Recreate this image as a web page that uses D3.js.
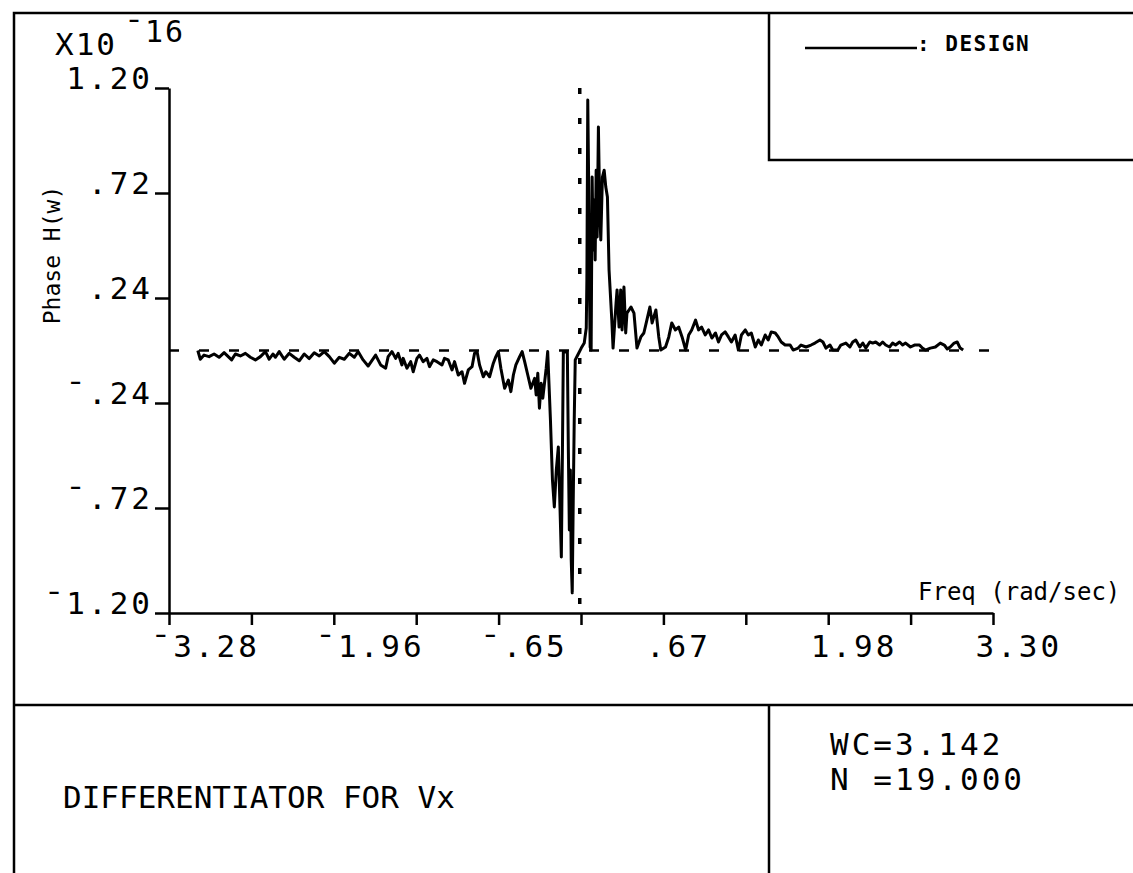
<!DOCTYPE html>
<html>
<head>
<meta charset="utf-8">
<script src="https://cdn.jsdelivr.net/npm/d3@7"></script>
<style>
  html, body { margin: 0; padding: 0; background: #fff; }
  svg { display: block; }
  text { font-family: "DejaVu Sans Mono", monospace; fill: #000; }
</style>
</head>
<body>
<div id="chart"></div>
<script>
// frequency (rad/sec), phase (x 1e-16)
const leftTail = [
  [-3.05, 0.000], [-3.03, -0.040], [-3.00, -0.021], [-2.96, -0.028], [-2.92, -0.016],
  [-2.88, -0.031], [-2.84, -0.010], [-2.78, -0.043], [-2.75, -0.016], [-2.71, -0.025],
  [-2.67, -0.013], [-2.63, -0.031], [-2.59, -0.043], [-2.55, -0.028], [-2.51, -0.005],
  [-2.48, -0.040], [-2.45, -0.016], [-2.43, -0.031], [-2.40, -0.005], [-2.36, -0.040],
  [-2.32, -0.013], [-2.28, -0.031], [-2.24, -0.047], [-2.20, -0.016], [-2.16, -0.037],
  [-2.12, -0.010], [-2.08, -0.025], [-2.04, -0.005], [-2.00, -0.028], [-1.96, -0.058],
  [-1.92, -0.031], [-1.88, -0.040], [-1.84, -0.013], [-1.80, -0.031], [-1.77, -0.005],
  [-1.73, -0.043], [-1.69, -0.071], [-1.63, -0.021], [-1.59, -0.066], [-1.55, -0.081],
  [-1.53, -0.028], [-1.50, -0.005], [-1.47, -0.036], [-1.45, -0.013], [-1.42, -0.066],
  [-1.41, -0.036], [-1.38, -0.081], [-1.35, -0.051], [-1.33, -0.097], [-1.30, -0.036],
  [-1.28, -0.021], [-1.25, -0.051], [-1.22, -0.036], [-1.20, -0.074], [-1.17, -0.043],
  [-1.14, -0.051], [-1.10, -0.066], [-1.08, -0.036], [-1.05, -0.043], [-1.02, -0.089],
  [-1.00, -0.051], [-0.97, -0.112], [-0.94, -0.097], [-0.92, -0.150], [-0.89, -0.089],
  [-0.86, -0.074], [-0.84, -0.013], [-0.82, -0.005], [-0.80, -0.066], [-0.77, -0.120],
  [-0.75, -0.097], [-0.72, -0.120], [-0.69, -0.058], [-0.67, -0.028], [-0.65, -0.005],
  [-0.63, -0.081], [-0.60, -0.173], [-0.57, -0.135], [-0.55, -0.188], [-0.53, -0.112],
  [-0.51, -0.066], [-0.48, -0.028], [-0.46, -0.005], [-0.44, -0.051], [-0.415, -0.112],
  [-0.39, -0.173], [-0.36, -0.127], [-0.348, -0.203], [-0.335, -0.104], [-0.322, -0.264],
  [-0.308, -0.150], [-0.295, -0.218], [-0.268, -0.081], [-0.256, -0.005]
];

const centerSpike = [
  [-0.234, -0.318], [-0.218, -0.592], [-0.203, -0.715], [-0.187, -0.546], [-0.171, -0.441],
  [-0.155, -0.775], [-0.147, -0.944], [-0.139, -0.500], [-0.131, -0.007], [-0.099, -0.007],
  [-0.091, -0.455], [-0.083, -0.821], [-0.075, -0.546], [-0.068, -0.958], [-0.060, -1.108],
  [-0.052, -0.683], [-0.044, -0.318], [-0.036, -0.043], [-0.020, -0.025], [0.012, 0.011],
  [0.036, 0.034], [0.052, 0.103], [0.057, 0.322], [0.064, 1.145], [0.071, 0.779],
  [0.079, 0.231], [0.083, 0.016], [0.091, 0.002], [0.099, 0.793], [0.107, 0.459],
  [0.115, 0.688], [0.123, 0.414], [0.131, 0.824], [0.139, 0.519], [0.149, 1.022],
  [0.160, 0.629], [0.168, 0.505], [0.181, 0.793], [0.195, 0.824], [0.208, 0.747],
  [0.221, 0.702], [0.234, 0.368], [0.256, 0.139], [0.266, 0.011]
];

const rightTail = [
  [0.290, 0.217], [0.298, 0.277], [0.314, 0.107], [0.327, 0.277], [0.338, 0.094],
  [0.353, 0.290], [0.367, 0.080], [0.377, 0.171], [0.409, 0.199], [0.433, 0.171],
  [0.457, 0.011], [0.488, 0.062], [0.512, 0.080], [0.536, 0.139], [0.560, 0.199],
  [0.578, 0.126], [0.608, 0.185], [0.631, 0.062], [0.647, 0.002], [0.685, 0.016],
  [0.711, 0.062], [0.735, 0.126], [0.764, 0.094], [0.790, 0.107], [0.817, 0.062],
  [0.846, 0.002], [0.870, 0.071], [0.894, 0.094], [0.925, 0.139], [0.949, 0.094],
  [0.973, 0.107], [1.002, 0.071], [1.029, 0.094], [1.055, 0.057], [1.084, 0.080],
  [1.108, 0.039], [1.132, 0.071], [1.161, 0.085], [1.187, 0.062], [1.211, 0.039],
  [1.241, 0.071], [1.267, 0.002], [1.291, 0.071], [1.322, 0.094], [1.346, 0.071],
  [1.370, 0.080], [1.402, 0.016], [1.426, 0.048], [1.450, 0.025], [1.481, 0.071],
  [1.505, 0.048], [1.529, 0.085], [1.561, 0.080], [1.585, 0.062], [1.609, 0.039],
  [1.640, 0.025], [1.680, 0.025], [1.704, 0.002], [1.744, 0.011], [1.767, 0.025],
  [1.807, 0.016], [1.847, 0.025], [1.878, 0.034], [1.918, 0.048], [1.942, 0.039],
  [1.966, 0.011], [1.998, 0.025], [2.021, 0.002], [2.061, 0.002], [2.085, 0.025],
  [2.125, 0.034], [2.157, 0.016], [2.180, 0.039], [2.204, 0.048], [2.236, 0.016],
  [2.260, 0.034], [2.284, 0.011], [2.316, 0.039], [2.339, 0.034], [2.363, 0.039],
  [2.395, 0.025], [2.419, 0.039], [2.443, 0.025], [2.474, 0.016], [2.498, 0.034],
  [2.522, 0.025], [2.554, 0.039], [2.578, 0.025], [2.602, 0.034], [2.641, 0.016],
  [2.673, 0.025], [2.713, 0.025], [2.736, 0.011], [2.760, 0.002], [2.800, 0.011],
  [2.840, 0.016], [2.879, 0.034], [2.911, 0.025], [2.935, 0.007], [2.959, 0.016],
  [2.990, 0.034], [3.014, 0.039], [3.038, 0.011], [3.062, 0.002]
];

// design: zero phase with the jump at w = 0
const designLine = [[-3.28, 0], [3.30, 0]];
const designJump = [[0, 1.20], [0, -1.20]];

const xTicks = [-3.28, -2.622, -1.964, -1.306, -0.648, 0.01, 0.668, 1.326, 1.984, 2.642, 3.30];
const xTickLabels = ['¯3.28', '', '¯1.96', '', '¯.65', '', '.67', '', '1.98', '', '3.30'];
const yTicks = [1.20, 0.72, 0.24, -0.24, -0.72, -1.20];
const yTickLabels = ['1.20', '.72', '.24', '¯.24', '¯.72', '¯1.20'];

const W = 1133, H = 873;
const plot = { left: 169, right: 993, top: 88, bottom: 613 };

const svg = d3.select('#chart').append('svg')
  .attr('width', W)
  .attr('height', H)
  .attr('viewBox', [0, 0, W, H].join(' '));

svg.append('rect').attr('width', W).attr('height', H).attr('fill', '#fff');

// page frame
const frame = svg.append('g')
  .attr('stroke', '#000')
  .attr('stroke-width', 2.5)
  .attr('fill', 'none');
frame.append('path').attr('d', `M14,${H} V13 H${W}`);
frame.append('path').attr('d', `M14,705 H${W}`);
frame.append('path').attr('d', `M769,705 V${H}`);
frame.append('path').attr('d', `M769,13 V160 H${W}`);

let x = d3.scaleLinear()
  .domain([-3.28, 3.30])
  .range([plot.left, plot.right]);

let y = d3.scaleLinear()
  .domain([-1.20, 1.20])
  .range([plot.bottom, plot.top]);

let xAxis = g => g
  .attr('transform', `translate(0,${plot.bottom})`)
  .call(d3.axisBottom(x).tickValues(xTicks).tickSize(12).tickSizeOuter(0)
    .tickFormat((d, i) => xTickLabels[i]))
  .call(g => g.selectAll('text')
    .attr('text-anchor', 'start')
    .attr('x', -18)
    .attr('y', 44)
    .attr('dy', 0));

let yAxis = g => g
  .attr('transform', `translate(${plot.left},0)`)
  .call(d3.axisLeft(y).tickValues(yTicks).tickSize(14).tickSizeOuter(0)
    .tickFormat((d, i) => yTickLabels[i]))
  .call(g => g.selectAll('text')
    .attr('x', -16)
    .attr('dy', 0));

[xAxis, yAxis].forEach(ax => {
  svg.append('g')
    .call(ax)
    .attr('font-family', null)
    .attr('font-size', 31)
    .call(g => g.selectAll('path, line').attr('stroke', '#000').attr('stroke-width', 2.5))
    .call(g => g.selectAll('text').attr('fill', '#000').style('letter-spacing', '3px'));
});

let line = d3.line()
  .x(d => x(d[0]))
  .y(d => y(d[1]));

svg.append('path')
  .datum(designLine)
  .attr('fill', 'none')
  .attr('stroke', '#000')
  .attr('stroke-width', 2.5)
  .attr('stroke-dasharray', '10,20')
  .attr('d', line);

svg.append('path')
  .datum(designJump)
  .attr('fill', 'none')
  .attr('stroke', '#000')
  .attr('stroke-width', 3.5)
  .attr('stroke-dasharray', '6,24')
  .attr('d', line);

svg.append('path')
  .datum(leftTail.concat(centerSpike, rightTail))
  .attr('fill', 'none')
  .attr('stroke', '#000')
  .attr('stroke-width', 3)
  .attr('stroke-linejoin', 'round')
  .attr('d', line);

// scale factor label
svg.append('text')
  .attr('x', 55).attr('y', 55)
  .style('font-size', '31px')
  .style('letter-spacing', '2px')
  .text('X10');
svg.append('text')
  .attr('x', 125).attr('y', 42)
  .style('font-size', '30px')
  .style('letter-spacing', '2px')
  .text('¯16');

svg.append('text')
  .attr('transform', 'translate(60,255) rotate(-90)')
  .attr('text-anchor', 'middle')
  .style('font-size', '23px')
  .text('Phase H(w)');

svg.append('text')
  .attr('x', 918).attr('y', 600)
  .style('font-size', '24px')
  .text('Freq (rad/sec)');

// legend
svg.append('line')
  .attr('x1', 805).attr('x2', 917)
  .attr('y1', 48).attr('y2', 48)
  .attr('stroke', '#000')
  .attr('stroke-width', 2.5);
svg.append('text')
  .attr('x', 917).attr('y', 51)
  .style('font-size', '21px')
  .style('font-weight', 'bold')
  .style('letter-spacing', '1.5px')
  .text(': DESIGN');

// captions
svg.append('text')
  .attr('x', 63).attr('y', 808)
  .style('font-size', '31px')
  .text('DIFFERENTIATOR FOR Vx');
svg.append('text')
  .attr('x', 830).attr('y', 755)
  .style('font-size', '31px')
  .style('letter-spacing', '3px')
  .text('WC=3.142');
svg.append('text')
  .attr('x', 830).attr('y', 790)
  .style('font-size', '31px')
  .style('letter-spacing', '3px')
  .text('N =19.000');
</script>
</body>
</html>
